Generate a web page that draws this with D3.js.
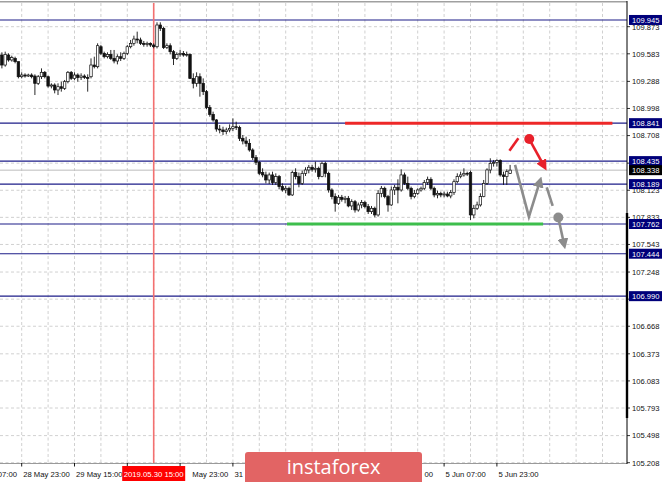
<!DOCTYPE html>
<html><head><meta charset="utf-8">
<script src="https://cdnjs.cloudflare.com/ajax/libs/d3/7.8.5/d3.min.js"></script>
<style>body{margin:0;background:#fff}svg{display:block}</style>
</head><body>
<svg id="c" width="665" height="482"></svg>
<script>
// H1 candles, index 0 = 28 May 17:00 (weekend gap skipped after 31 May 23:00)
const open = [109.570,109.463,109.570,109.517,109.534,109.499,109.338,109.356,109.345,109.356,
109.345,109.267,109.338,109.385,109.338,109.238,109.249,109.196,109.231,109.213,
109.285,109.385,109.320,109.356,109.328,109.345,109.331,109.338,109.463,109.445,
109.659,109.588,109.552,109.577,109.534,109.506,109.552,109.534,109.588,109.659,
109.695,109.741,109.731,109.695,109.684,109.695,109.677,109.659,109.891,109.855,
109.649,109.670,109.606,109.534,109.577,109.588,109.570,109.577,109.320,109.267,
109.338,109.267,109.178,109.007,108.935,108.875,108.778,108.768,108.750,108.768,
108.785,108.803,108.793,108.679,108.650,108.625,108.554,108.472,108.422,108.312,
108.287,108.233,108.287,108.205,108.269,108.162,108.126,108.144,108.073,108.312,
108.269,108.197,108.304,108.340,108.369,108.347,108.358,108.269,108.411,108.304,
108.126,108.055,107.983,108.048,108.026,108.037,107.955,108.001,107.912,107.966,
107.991,107.948,107.894,107.930,107.859,108.090,108.144,108.055,107.966,108.126,
108.155,108.126,108.287,108.197,108.144,108.055,108.090,108.126,108.144,108.205,
108.240,108.144,108.073,108.090,108.073,108.083,108.062,108.098,108.215,108.269,
108.287,108.304,108.312,107.859,107.930,107.966,108.055,108.197,108.340,108.411,
108.419,108.440,108.287,108.269,108.304];
const high = [109.599,109.606,109.588,109.563,109.552,109.499,109.385,109.374,109.370,109.374,
109.363,109.356,109.427,109.399,109.349,109.267,109.267,109.267,109.285,109.303,
109.399,109.399,109.385,109.374,109.374,109.363,109.363,109.534,109.552,109.695,
109.677,109.606,109.599,109.624,109.624,109.577,109.599,109.606,109.677,109.731,
109.777,109.820,109.756,109.720,109.713,109.706,109.695,109.920,109.920,109.873,
109.695,109.695,109.624,109.599,109.624,109.613,109.606,109.588,109.374,109.385,
109.374,109.320,109.196,109.035,108.964,108.885,108.821,108.803,108.793,108.828,
108.892,108.857,108.814,108.714,108.696,108.671,108.572,108.500,108.436,108.358,
108.322,108.312,108.322,108.304,108.287,108.197,108.169,108.162,108.333,108.358,
108.312,108.333,108.369,108.394,108.394,108.429,108.376,108.429,108.429,108.322,
108.144,108.090,108.073,108.073,108.062,108.062,108.026,108.019,107.991,108.019,
108.012,107.976,107.955,107.948,108.126,108.169,108.162,108.073,108.162,108.180,
108.240,108.347,108.312,108.269,108.162,108.126,108.144,108.162,108.233,108.269,
108.262,108.162,108.119,108.108,108.108,108.108,108.126,108.240,108.304,108.322,
108.358,108.322,108.333,107.966,108.001,108.090,108.233,108.358,108.465,108.447,
108.454,108.454,108.322,108.347,108.394];
const low = [109.427,109.445,109.499,109.499,109.481,109.320,109.320,109.328,109.335,109.320,
109.142,109.249,109.313,109.320,109.221,109.213,109.160,109.142,109.178,109.196,
109.267,109.303,109.303,109.285,109.303,109.313,109.178,109.320,109.427,109.427,
109.570,109.534,109.534,109.517,109.481,109.470,109.506,109.517,109.570,109.641,
109.670,109.695,109.677,109.659,109.659,109.656,109.641,109.641,109.827,109.634,
109.634,109.577,109.463,109.517,109.552,109.552,109.552,109.313,109.213,109.231,
109.124,109.142,108.992,108.910,108.857,108.750,108.732,108.714,108.721,108.743,
108.757,108.768,108.650,108.614,108.589,108.536,108.447,108.393,108.286,108.262,
108.197,108.190,108.180,108.180,108.133,108.108,108.090,108.062,108.062,108.240,
108.155,108.180,108.276,108.304,108.322,108.312,108.240,108.262,108.262,108.098,
108.026,107.894,107.966,108.001,107.983,107.941,107.912,107.884,107.894,107.930,
107.930,107.869,107.869,107.834,107.841,108.048,108.037,107.894,107.955,108.073,
107.983,108.108,108.180,108.126,108.026,108.037,108.073,108.108,108.126,108.180,
108.126,108.048,108.037,108.048,108.048,108.048,108.037,108.073,108.197,108.251,
108.269,108.276,107.805,107.823,107.912,107.948,108.048,108.180,108.304,108.376,
108.376,108.269,108.180,108.180,108.297];
const close = [109.463,109.577,109.517,109.542,109.499,109.338,109.356,109.345,109.356,109.338,
109.267,109.338,109.385,109.338,109.238,109.249,109.196,109.231,109.213,109.285,
109.385,109.320,109.356,109.328,109.345,109.331,109.320,109.463,109.445,109.670,
109.588,109.552,109.577,109.534,109.506,109.552,109.534,109.588,109.659,109.695,
109.741,109.731,109.695,109.684,109.695,109.677,109.659,109.891,109.855,109.649,
109.670,109.606,109.534,109.577,109.588,109.570,109.577,109.320,109.267,109.338,
109.267,109.178,109.007,108.935,108.875,108.778,108.768,108.750,108.768,108.785,
108.803,108.793,108.679,108.650,108.625,108.554,108.472,108.422,108.304,108.287,
108.233,108.287,108.205,108.269,108.162,108.126,108.144,108.073,108.312,108.269,
108.197,108.304,108.340,108.369,108.347,108.358,108.269,108.411,108.304,108.126,
108.055,107.983,108.048,108.026,108.037,107.955,108.001,107.912,107.966,107.991,
107.948,107.894,107.930,107.859,108.090,108.144,108.055,107.966,108.126,108.155,
108.126,108.287,108.197,108.144,108.055,108.090,108.126,108.144,108.205,108.240,
108.144,108.073,108.090,108.073,108.083,108.062,108.098,108.215,108.269,108.287,
108.304,108.297,107.859,107.930,107.966,108.055,108.197,108.340,108.411,108.419,
108.440,108.287,108.269,108.322,108.338];

const priceTicks = [109.873,109.583,109.288,108.998,108.708,108.413,108.123,107.833,107.543,107.248,106.958,106.668,106.373,106.083,105.793,105.498,105.208];
const levels = [109.945,108.841,108.435,108.189,107.762,107.444,106.990];
const bidPrice = 108.338;
const timeTickIdx = [-10,6,22,38,54,70,86,102,118,134,150];
const timeTickLabels = ["28 May 07:00","28 May 23:00","29 May 15:00","30 May 07:00","30 May 23:00","31 May 15:00","3 Jun 07:00","3 Jun 23:00","4 Jun 15:00","5 Jun 07:00","5 Jun 23:00"];
// part of each label left visible by the date marker / logo overlays ("" = fully hidden)
const timeTickVisible = ["28 May 07:00","28 May 23:00","29 May 15:00","","May 23:00","31","","","00","5 Jun 07:00","5 Jun 23:00"];
const gridStepBars = 8;
const markerIdx = 46, markerLabel = "2019.05.30 15:00";
// forecast annotations in (bar index, price)
const resistanceSeg = [[104,108.841],[185,108.841]];
const supportSeg = [[86.4,107.762],[164,107.762]];
const redDash = [[153.8,108.546],[156.5,108.679]];
const redDot = [159.8,108.671];
const redArrow = [[159.8,108.671],[164.4,108.375]];
const grayPath = [[155.5,108.394],[159.7,107.840],[163.1,108.225]];
const grayDash = [[165.1,108.154],[166.9,107.955]];
const grayDot = [168.6,107.831];
const grayArrow = [[168.6,107.831],[170.4,107.537]];

const W = 665, H = 482, plotR = 627, plotT = 3, plotB = 463;
const x = d3.scaleLinear().domain([0,154]).range([1.9,510.1]);
const y = d3.scaleLinear().domain([105.208,109.873]).range([462.7,26.7]);
const svg = d3.select("#c");
const FONT = "'Liberation Sans', Arial, sans-serif";

const defs = svg.append("defs");
defs.append("clipPath").attr("id","plot").append("rect").attr("x",0).attr("y",plotT).attr("width",plotR).attr("height",plotB-plotT);
function mk(id,col){
  defs.append("marker").attr("id",id).attr("viewBox","0 0 10 10").attr("refX",6).attr("refY",5)
    .attr("markerUnits","userSpaceOnUse").attr("markerWidth",11).attr("markerHeight",11).attr("orient","auto")
    .append("path").attr("d","M0,0 L10,5 L0,10 z").attr("fill",col);
}
mk("ar","#e8202a"); mk("ag","#8c8c8c");

const g = svg.append("g").attr("clip-path","url(#plot)");
// grid
priceTicks.forEach(p=>{
  g.append("line").attr("x1",0).attr("x2",plotR).attr("y1",y(p)).attr("y2",y(p))
   .attr("stroke","#c4c4c4").attr("stroke-width",0.8).attr("stroke-dasharray","3,2.5");
});
for(let i=6-gridStepBars*2;i<=200;i+=gridStepBars){
  g.append("line").attr("x1",x(i)).attr("x2",x(i)).attr("y1",plotT).attr("y2",plotB)
   .attr("stroke","#c4c4c4").attr("stroke-width",0.8).attr("stroke-dasharray","3,2.5");
}
// level lines
levels.forEach(p=>{
  g.append("line").attr("x1",0).attr("x2",plotR).attr("y1",y(p)).attr("y2",y(p))
   .attr("stroke","#1c1c88").attr("stroke-width",1.1);
});
g.append("line").attr("x1",0).attr("x2",plotR).attr("y1",y(bidPrice)).attr("y2",y(bidPrice))
 .attr("stroke","#bdbdbd").attr("stroke-width",1);
// marker vertical line
g.append("line").attr("x1",x(markerIdx)).attr("x2",x(markerIdx)).attr("y1",plotT).attr("y2",plotB)
 .attr("stroke","#f37070").attr("stroke-width",1.6);

// candles
const data = d3.range(open.length).map(i=>({i,o:open[i],h:high[i],l:low[i],c:close[i]}));
const cg = g.append("g");
cg.selectAll("line.w").data(data).join("line").attr("class","w")
  .attr("x1",d=>x(d.i)).attr("x2",d=>x(d.i)).attr("y1",d=>y(d.h)).attr("y2",d=>y(d.l))
  .attr("stroke","#111").attr("stroke-width",0.9);
cg.selectAll("rect.b").data(data).join("rect").attr("class","b")
  .attr("x",d=>x(d.i)-1.25).attr("width",2.5)
  .attr("y",d=>y(Math.max(d.o,d.c)))
  .attr("height",d=>Math.max(Math.abs(y(d.o)-y(d.c)),0.8))
  .attr("fill",d=>d.c>=d.o?"#fff":"#111").attr("stroke","#111").attr("stroke-width",0.7);

// support / resistance
const ln = d3.line().x(d=>x(d[0])).y(d=>y(d[1]));
g.append("path").attr("d",ln(resistanceSeg)).attr("stroke","#ee2828").attr("stroke-width",3).attr("fill","none");
g.append("path").attr("d",ln(supportSeg)).attr("stroke","#3dbe4c").attr("stroke-width",3).attr("fill","none");
// forecast arrows
g.append("path").attr("d",ln(redDash)).attr("stroke","#e8202a").attr("stroke-width",2.6).attr("fill","none");
g.append("path").attr("d",ln(redArrow)).attr("stroke","#e8202a").attr("stroke-width",2.6).attr("fill","none").attr("marker-end","url(#ar)");
g.append("circle").attr("cx",x(redDot[0])).attr("cy",y(redDot[1])).attr("r",5).attr("fill","#e8202a");
g.append("path").attr("d",ln(grayPath)).attr("stroke","#8c8c8c").attr("stroke-width",2.6).attr("fill","none").attr("stroke-linejoin","miter").attr("marker-end","url(#ag)");
g.append("path").attr("d",ln(grayDash)).attr("stroke","#8c8c8c").attr("stroke-width",2.6).attr("fill","none");
g.append("path").attr("d",ln(grayArrow)).attr("stroke","#8c8c8c").attr("stroke-width",2.6).attr("fill","none").attr("marker-end","url(#ag)");
g.append("circle").attr("cx",x(grayDot[0])).attr("cy",y(grayDot[1])).attr("r",5).attr("fill","#8c8c8c");

// frame
svg.append("line").attr("x1",0).attr("x2",plotR).attr("y1",1.8).attr("y2",1.8).attr("stroke","#a0a0a0").attr("stroke-width",1.4);
svg.append("line").attr("x1",0).attr("x2",plotR).attr("y1",plotB+0.5).attr("y2",plotB+0.5).attr("stroke","#9a9a9a").attr("stroke-width",1);
svg.append("line").attr("x1",plotR).attr("x2",plotR).attr("y1",1).attr("y2",plotB+1).attr("stroke","#000").attr("stroke-width",1);
svg.append("line").attr("x1",plotR).attr("x2",plotR).attr("y1",213).attr("y2",418).attr("stroke","#000").attr("stroke-width",2.4);

// price axis (tick labels fully under a level tag are not drawn, as in MT4)
const ax = svg.append("g");
const tagged = levels.concat([bidPrice]);
priceTicks.forEach(p=>{
  ax.append("line").attr("x1",plotR).attr("x2",plotR+3).attr("y1",y(p)).attr("y2",y(p)).attr("stroke","#000").attr("stroke-width",0.8);
  const hidden = tagged.some(l=>Math.abs(y(l)-y(p))<5);
  if(hidden) return;
  ax.append("text").attr("x",632).attr("y",y(p)+2.8).text(p.toFixed(3))
    .attr("font-family",FONT).attr("font-size",7.6).attr("fill","#111");
});
function tag(p,bg){
  ax.append("rect").attr("x",629).attr("y",y(p)-5).attr("width",33).attr("height",10).attr("fill",bg);
  ax.append("text").attr("x",632).attr("y",y(p)+2.8).text(p.toFixed(3))
    .attr("font-family",FONT).attr("font-size",7.6).attr("fill","#fff");
}
levels.forEach(p=>tag(p,"#00007a"));
tag(bidPrice,"#000");

// time axis
const tx = svg.append("g");
timeTickIdx.forEach((i,k)=>{
  tx.append("line").attr("x1",x(i)).attr("x2",x(i)).attr("y1",plotB).attr("y2",plotB+3.5).attr("stroke","#000").attr("stroke-width",0.9);
  const vis = timeTickVisible[k];
  if(!vis) return;
  const full = timeTickLabels[k];
  const t = tx.append("text").attr("x",x(i)+1.5).attr("y",476.5).text(full)
    .attr("font-family",FONT).attr("font-size",7.7).attr("fill","#111");
  if(vis !== full){
    const len = t.node().getComputedTextLength();
    if(full.endsWith(vis)){
      t.text(vis).attr("text-anchor","end").attr("x",x(i)+1.5+len);
    } else {
      t.text(vis);
    }
  }
});
tx.append("rect").attr("x",x(markerIdx)-31.5).attr("y",466).attr("width",63).attr("height",15).attr("fill","#ff0000");
tx.append("text").attr("x",x(markerIdx)).attr("y",476.5).attr("text-anchor","middle").text(markerLabel)
  .attr("font-family",FONT).attr("font-size",7.7).attr("fill","#fff");

// logo
svg.append("rect").attr("x",245).attr("y",452).attr("width",177).attr("height",40).attr("rx",3).attr("fill","#e26464");
svg.append("text").attr("x",333.5).attr("y",474).attr("text-anchor","middle").text("instaforex")
  .attr("font-family","'Open Sans', sans-serif").attr("font-size",20).attr("fill","#fff");
</script>
</body></html>
